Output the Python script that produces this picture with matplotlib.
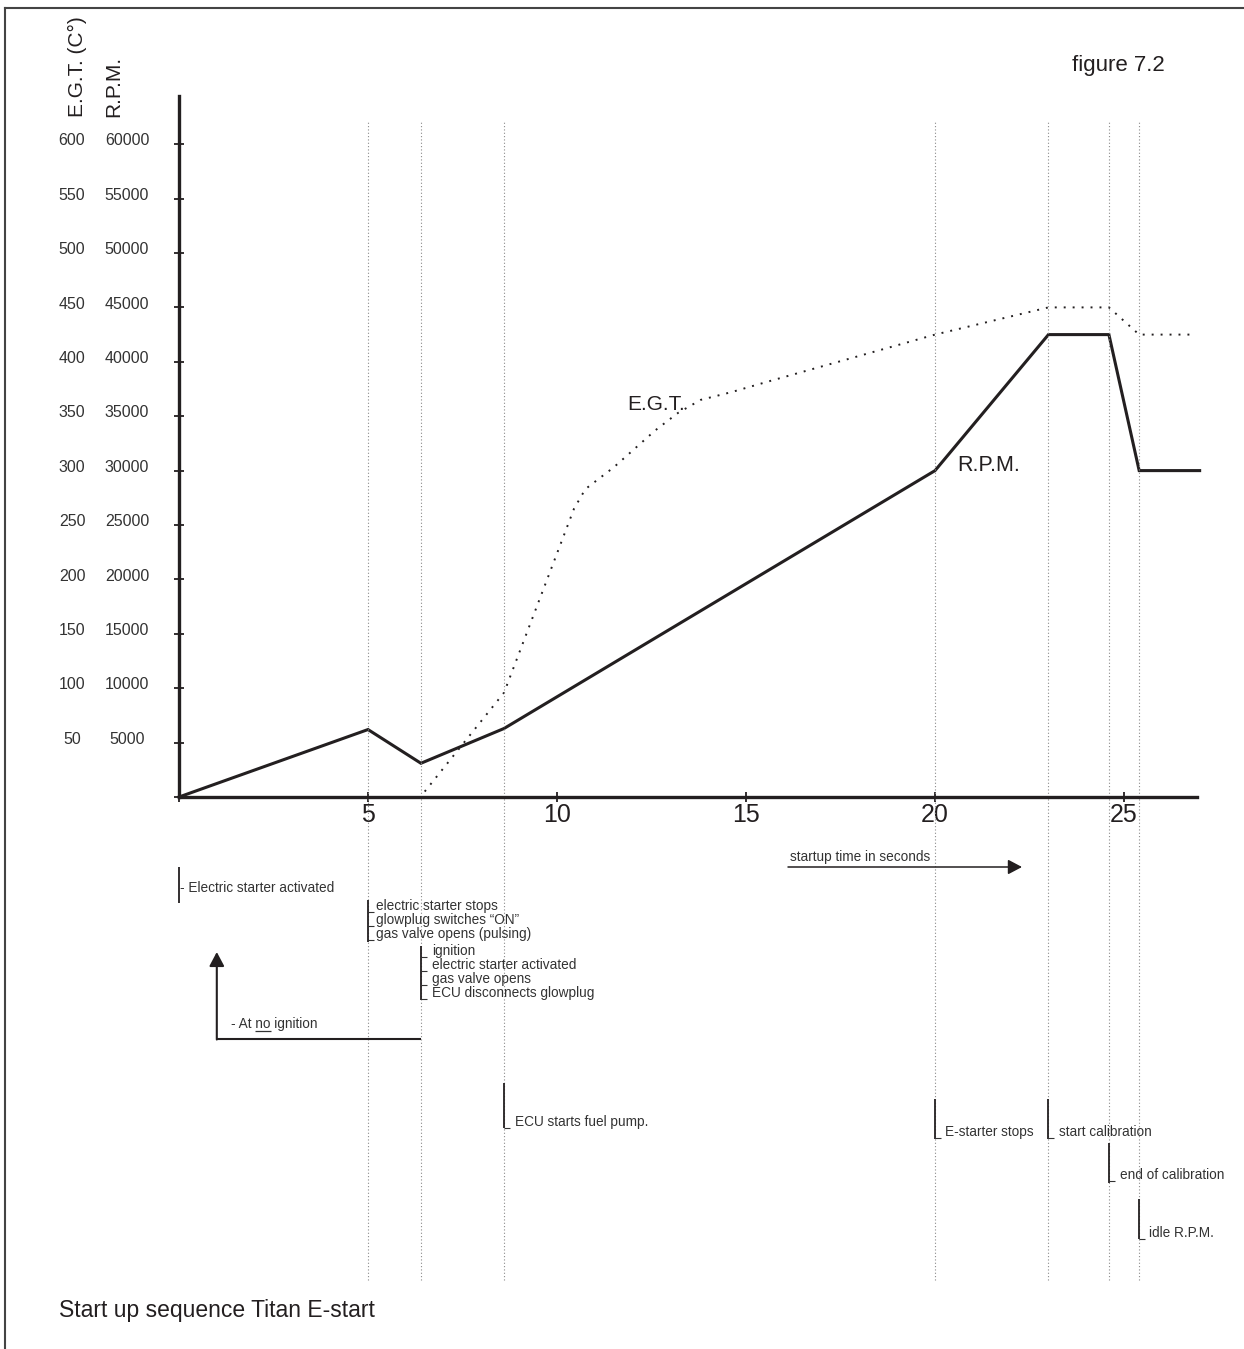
import matplotlib
matplotlib.use('Agg')
import matplotlib.pyplot as plt
from matplotlib.lines import Line2D
from matplotlib.transforms import blended_transform_factory

W, H = 1244, 1349
INK = '#231f20'
GREY = '#333333'

# events of the start up sequence (seconds)
event_times = [5, 6.4, 8.6, 20, 23, 24.6, 25.4]

rpm_time = [0, 5, 6.4, 8.6, 20, 23, 24.6, 25.4, 27]
rpm_values = [0, 6200, 3100, 6300, 30000, 42500, 42500, 30000, 30000]

egt_time = [6.5, 8.6, 10.45, 10.75, 11.5, 12.6, 13.2, 13.8, 14.6, 15.7, 20, 23, 24.6, 25.4, 26.8]
egt_values = [5, 96, 265, 283, 303, 337, 353, 365, 372, 383, 425, 450, 450, 425, 425]

rpm_ticks = [5000, 10000, 15000, 20000, 25000, 30000, 35000, 40000, 45000, 50000, 55000, 60000]
egt_ticks = [50, 100, 150, 200, 250, 300, 350, 400, 450, 500, 550, 600]
x_ticks = [0, 5, 10, 15, 20, 25]
x_labels = ['', '5', '10', '15', '20', '25']

note_times = [0, 5, 6.4, 8.6, 20, 23, 24.6, 25.4]
note_texts = [
    ['- Electric starter activated'],
    ['electric starter stops', 'glowplug switches \u201cON\u201d', 'gas valve opens (pulsing)'],
    ['ignition', 'electric starter activated', 'gas valve opens', 'ECU disconnects glowplug'],
    ['ECU starts fuel pump.'],
    ['E-starter stops'],
    ['start calibration'],
    ['end of calibration'],
    ['idle R.P.M.'],
]
# layout of the notes below the chart, in pixels from the top
note_bars = [(867, 903), (900, 942), (946, 1000), (1083, 1128),
             (1099, 1139), (1099, 1139), (1143, 1183), (1199, 1239)]
note_first_line = [888, 906, 951, 1122, 1132, 1132, 1175, 1233]
note_dx = [1, 8, 11, 11, 10, 11, 11, 10]
LINE_STEP = 14
NOTE_SIZE = 9.8


def fx(px):
    return px / W


def fy(py):
    return 1 - py / H


fig = plt.figure(figsize=(W / 100, H / 100), dpi=100)
plt.rcParams['font.family'] = ['Liberation Sans', 'DejaVu Sans']

ax = fig.add_axes([fx(179), fy(797), (1197 - 179) / W, (797 - 96) / H])
ax.set_xlim(0, 26.93)
ax.set_ylim(0, 64430)
for s in ['top', 'right']:
    ax.spines[s].set_visible(False)
for s in ['left', 'bottom']:
    ax.spines[s].set_linewidth(2.4)
    ax.spines[s].set_color(INK)
ax.set_facecolor('none')

ax.set_yticks([0] + rpm_ticks)
ax.set_yticklabels([])
ax.set_xticks(x_ticks)
ax.set_xticklabels(x_labels)
ax.tick_params(axis='both', direction='inout', length=7.2, width=1.3, color=INK)
ax.tick_params(axis='x', labelsize=18, labelcolor=INK, pad=1)

# curves
ax.plot(rpm_time, rpm_values, color=INK, lw=2.2, clip_on=False, solid_joinstyle='miter')
ax.plot(egt_time, [v * 100 for v in egt_values], color=INK, lw=1.4,
        linestyle=(0, (1, 3.6)), clip_on=False)

# event lines
vtrans = blended_transform_factory(ax.transData, fig.transFigure)
ax.vlines(event_times, fy(1280), fy(120), transform=vtrans, colors='#8a8a8a',
          lw=0.8, linestyles=[(0, (1, 2))], clip_on=False)

ax.text(11.85, 36100, 'E.G.T.', fontsize=15, color=INK, va='center')
ax.text(20.6, 30500, 'R.P.M.', fontsize=15.5, color=INK, va='center')

# y tick label columns
ytrans = blended_transform_factory(fig.transFigure, ax.transData)
for r, e in zip(rpm_ticks, egt_ticks):
    ax.text(fx(127), r + 300, str(r), transform=ytrans, ha='center', va='center',
            fontsize=11.5, color=GREY)
    ax.text(fx(72), r + 300, str(e), transform=ytrans, ha='center', va='center',
            fontsize=11.5, color=GREY)

fig.text(fx(77), fy(117), 'E.G.T. (C\u00b0)', rotation=90, ha='center', va='bottom',
         fontsize=15, color=INK)
fig.text(fx(113.5), fy(117), 'R.P.M.', rotation=90, ha='center', va='bottom',
         fontsize=15, color=INK)
fig.text(fx(1072), fy(65), 'figure 7.2', ha='left', va='center', fontsize=16, color=INK)
fig.text(fx(59), fy(1310), 'Start up sequence Titan E-start', ha='left', va='center',
         fontsize=16.5, color=INK)

# frame
fig.add_artist(Line2D([fx(5), fx(W)], [fy(8), fy(8)], transform=fig.transFigure,
                      color='#444444', lw=1.5))
fig.add_artist(Line2D([fx(5), fx(5)], [fy(8), fy(H)], transform=fig.transFigure,
                      color='#444444', lw=1.5))


def xpx(t):
    return ax.transData.transform((t, 0))[0]


def seg(x0, y0, x1, y1, lw=1.2, color=INK):
    fig.add_artist(Line2D([fx(x0), fx(x1)], [fy(y0), fy(y1)], transform=fig.transFigure,
                          color=color, lw=lw, solid_capstyle='butt'))


# notes
for i, (t, lines) in enumerate(zip(note_times, note_texts)):
    x = xpx(t)
    top, bottom = note_bars[i]
    seg(x, top, x, bottom, lw=1.3)
    for k, line in enumerate(lines):
        y = note_first_line[i] + k * LINE_STEP
        fig.text(fx(x + note_dx[i]), fy(y), line, ha='left', va='center',
                 fontsize=NOTE_SIZE, color=GREY)
        if i > 0:
            seg(x, y + 6, x + 6, y + 6, lw=0.8, color=GREY)

# startup time arrow
ax.annotate('', xy=(fx(1022), fy(867)), xytext=(fx(788), fy(867)),
            xycoords='figure fraction',
            arrowprops=dict(arrowstyle='-|>,head_length=0.85,head_width=0.45',
                            mutation_scale=10, lw=1.1, color=INK, shrinkA=0, shrinkB=0))
fig.text(fx(790), fy(857), 'startup time in seconds', ha='left', va='center',
         fontsize=NOTE_SIZE, color=GREY)

# retry path when there is no ignition
x_ign = xpx(note_times[2])
x_back = xpx(1.0)
seg(x_ign, 1039, x_back - 0.7, 1039, lw=1.5)
ax.annotate('', xy=(fx(x_back), fy(952)), xytext=(fx(x_back), fy(1039.5)),
            xycoords='figure fraction',
            arrowprops=dict(arrowstyle='-|>,head_length=0.85,head_width=0.45',
                            mutation_scale=10, lw=1.5, color=INK, shrinkA=0, shrinkB=0))
fig.text(fx(231), fy(1024), '- At no ignition', ha='left', va='center',
         fontsize=NOTE_SIZE, color=GREY)
renderer = fig.canvas.get_renderer()
widths = []
for part in ['- At ', '- At no']:
    tmp = fig.text(0, 0, part, fontsize=NOTE_SIZE)
    widths.append(tmp.get_window_extent(renderer).width)
    tmp.remove()
seg(231 + widths[0], 1031, 231 + widths[1], 1031, lw=0.9, color=GREY)

fig.savefig('out.png', dpi=100)
